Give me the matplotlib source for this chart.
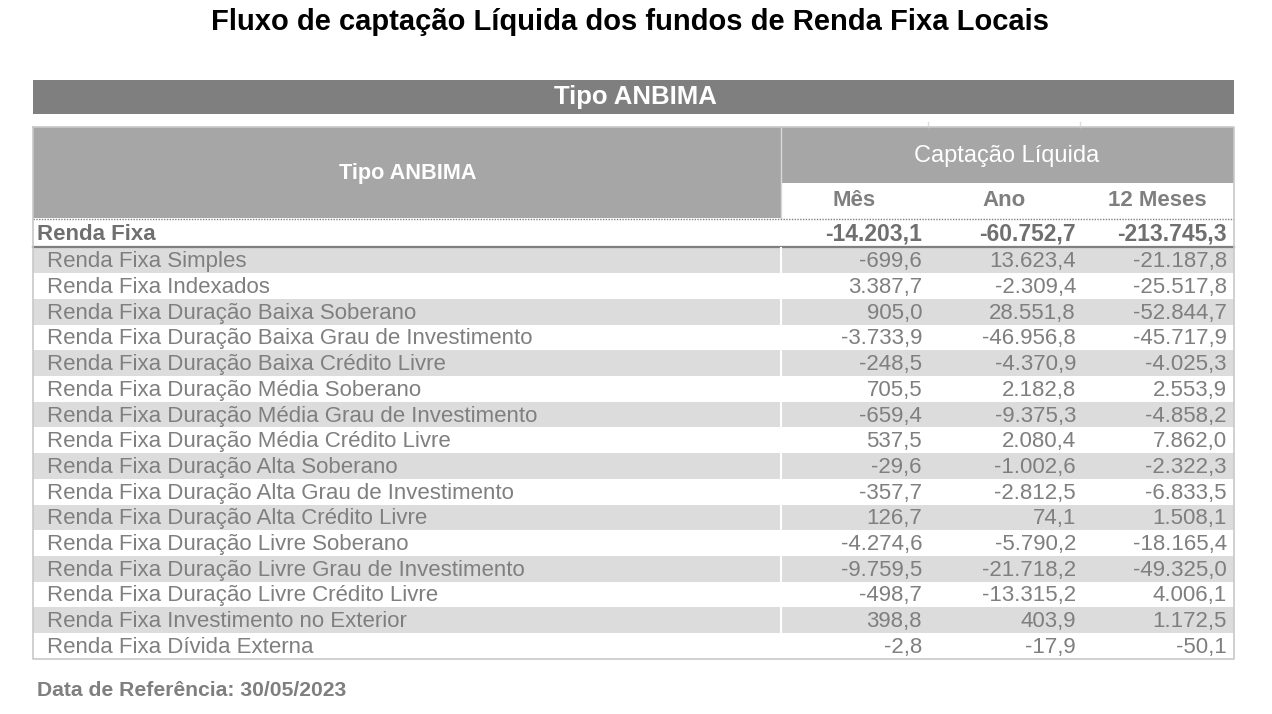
import matplotlib.pyplot as plt
from matplotlib.patches import Rectangle

plt.rcParams['font.family'] = ['Liberation Sans', 'DejaVu Sans']

title = "Fluxo de captação Líquida dos fundos de Renda Fixa Locais"
group_name = "Renda Fixa"
group_values = [-14203.1, -60752.7, -213745.3]
col_names = ["Mês", "Ano", "12 Meses"]

labels = [
    "Renda Fixa Simples",
    "Renda Fixa Indexados",
    "Renda Fixa Duração Baixa Soberano",
    "Renda Fixa Duração Baixa Grau de Investimento",
    "Renda Fixa Duração Baixa Crédito Livre",
    "Renda Fixa Duração Média Soberano",
    "Renda Fixa Duração Média Grau de Investimento",
    "Renda Fixa Duração Média Crédito Livre",
    "Renda Fixa Duração Alta Soberano",
    "Renda Fixa Duração Alta Grau de Investimento",
    "Renda Fixa Duração Alta Crédito Livre",
    "Renda Fixa Duração Livre Soberano",
    "Renda Fixa Duração Livre Grau de Investimento",
    "Renda Fixa Duração Livre Crédito Livre",
    "Renda Fixa Investimento no Exterior",
    "Renda Fixa Dívida Externa",
]
mes = [-699.6, 3387.7, 905.0, -3733.9, -248.5, 705.5, -659.4, 537.5,
       -29.6, -357.7, 126.7, -4274.6, -9759.5, -498.7, 398.8, -2.8]
ano = [13623.4, -2309.4, 28551.8, -46956.8, -4370.9, 2182.8, -9375.3, 2080.4,
       -1002.6, -2812.5, 74.1, -5790.2, -21718.2, -13315.2, 403.9, -17.9]
meses12 = [-21187.8, -25517.8, -52844.7, -45717.9, -4025.3, 2553.9, -4858.2, 7862.0,
           -2322.3, -6833.5, 1508.1, -18165.4, -49325.0, 4006.1, 1172.5, -50.1]
ref_date = "30/05/2023"


def br(v):
    # brazilian number format: 1.234,5
    s = f"{v:,.1f}"
    return s.replace(",", "X").replace(".", ",").replace("X", ".")


GREY_TXT = "#7f7f7f"
HEAD_BG = "#a6a6a6"
BAR_BG = "#7f7f7f"
ALT_BG = "#dcdcdc"

fig = plt.figure(figsize=(12.72, 7.14), dpi=100)
ax = fig.add_axes([0, 0, 1, 1])
ax.set_xlim(0, 1272)
ax.set_ylim(714, 0)
ax.axis("off")

left, right = 33, 1234
col_split = 781
num_right = [922, 1076, 1227]
col_centers = [854, 1004, 1157]

ax.text(630, 22, title, ha="center", va="center", fontsize=21,
        fontweight="bold", color="black")

# dark top bar
ax.add_patch(Rectangle((left, 80), right - left, 34, color=BAR_BG, lw=0))
ax.text(635, 97, "Tipo ANBIMA", ha="center", va="center", fontsize=18.5,
        fontweight="bold", color="white")

# header block
ax.add_patch(Rectangle((left, 127), right - left, 91, color=HEAD_BG, lw=0))
ax.add_patch(Rectangle((col_split, 183), right - col_split, 35, color="white", lw=0))
ax.plot([col_split, col_split], [127, 218], color="#d9d9d9", lw=1)
for xm in (928, 1080):
    ax.plot([xm, xm], [122, 127], color="#e0e0e0", lw=1)
ax.text(408, 173, "Tipo ANBIMA", ha="center", va="center", fontsize=15.6,
        fontweight="bold", color="white")
ax.text(1007, 156, "Captação Líquida", ha="center", va="center", fontsize=17,
        color="white")
for cx, name in zip(col_centers, col_names):
    ax.text(cx, 201, name, ha="center", va="center", fontsize=16,
            fontweight="bold", color=GREY_TXT)
ax.plot([left, right], [218.5, 218.5], color="#808080", lw=1, ls=(0, (1, 1)))

# group row
ax.text(37, 234, group_name, ha="left", va="center", fontsize=16,
        fontweight="bold", color="#6f6f6f")
for xr, v in zip(num_right, group_values):
    ax.text(xr, 234, br(v), ha="right", va="center", fontsize=16.5,
            fontweight="bold", color="#6f6f6f")
ax.plot([left, right], [246.5, 246.5], color="#7f7f7f", lw=1.6)

# data rows
row_top = 247.5
row_h = 25.7
for i, lab in enumerate(labels):
    y0 = row_top + i * row_h
    yc = y0 + row_h / 2 + 1.5
    if i % 2 == 0:
        ax.add_patch(Rectangle((left, y0), right - left, row_h, color=ALT_BG, lw=0))
        ax.plot([col_split, col_split], [y0, y0 + row_h], color="white", lw=1.5)
    ax.text(47, yc, lab, ha="left", va="center", fontsize=16, color=GREY_TXT)
    for xr, vals in zip(num_right, [mes, ano, meses12]):
        ax.text(xr, yc, br(vals[i]), ha="right", va="center", fontsize=16,
                color=GREY_TXT)

bottom = row_top + len(labels) * row_h
# outer border
ax.plot([left, left, right, right, left], [127, bottom, bottom, 127, 127],
        color="#c8c8c8", lw=1.2)

ax.text(37, 690, "Data de Referência: " + ref_date, ha="left", va="center",
        fontsize=15.2, fontweight="bold", color=GREY_TXT)

fig.savefig("out.png", dpi=100)
